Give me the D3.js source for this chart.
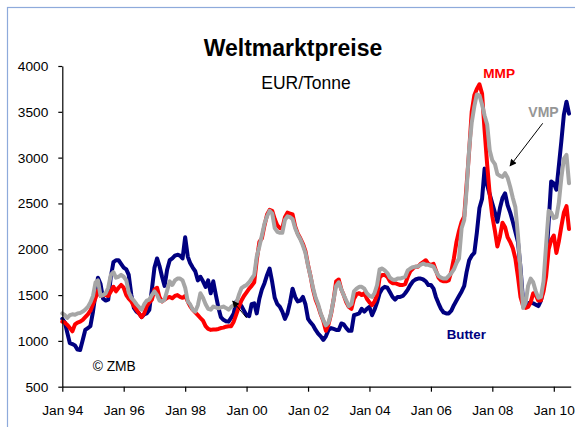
<!DOCTYPE html>
<html><head><meta charset="utf-8">
<script src="https://cdn.jsdelivr.net/npm/d3@7"></script>
<style>
html,body{margin:0;padding:0;background:#fff;}
svg{display:block;font-family:"Liberation Sans",Arial,sans-serif;}
</style></head>
<body>
<script>
// Monthly data Jan 1994 .. Jul 2010 (EUR/Tonne)
const startYear = 1994, startMonth = 0;
const butter = [
1240,1200,1090,975,965,950,905,900,1010,1120,
1140,1160,1320,1520,1690,1620,1460,1440,1450,1700,
1860,1880,1880,1840,1800,1780,1720,1500,1360,1320,
1300,1260,1290,1300,1340,1560,1800,1900,1820,1700,
1600,1780,1880,1900,1930,1940,1930,1900,2130,1920,
1850,1800,1760,1660,1700,1650,1590,1660,1520,1650,
1500,1360,1260,1230,1215,1210,1250,1300,1430,1420,
1380,1330,1280,1270,1400,1410,1300,1460,1560,1630,
1720,1790,1640,1470,1400,1370,1320,1240,1300,1420,
1570,1480,1430,1440,1480,1400,1240,1200,1170,1120,
1080,1050,1010,1050,1120,1140,1130,1120,1120,1190,
1180,1140,1110,1110,1280,1290,1300,1350,1320,1350,
1370,1280,1340,1420,1520,1570,1590,1580,1530,1480,
1450,1480,1480,1490,1520,1560,1610,1650,1670,1680,
1680,1670,1650,1610,1610,1570,1480,1410,1350,1310,
1300,1300,1330,1390,1440,1490,1540,1600,1750,1880,
1930,1960,2180,2450,2550,2880,2700,2600,2500,2400,
2300,2450,2560,2610,2480,2400,2300,2190,2080,1800,
1430,1400,1410,1420,1410,1395,1380,1440,1580,1850,
2300,2740,2720,2650,2900,3180,3470,3610,3480];
const mmp = [
1210,1200,1175,1140,1105,1180,1200,1210,1230,1260,
1290,1330,1400,1470,1550,1490,1500,1500,1490,1540,
1590,1540,1580,1610,1580,1500,1460,1430,1380,1340,
1300,1260,1300,1380,1420,1450,1560,1580,1480,1430,
1450,1470,1480,1465,1490,1500,1480,1470,1490,1430,
1380,1340,1310,1280,1250,1220,1160,1130,1120,1125,
1125,1130,1140,1145,1155,1160,1160,1210,1290,1370,
1440,1490,1530,1570,1600,1640,1880,2080,2120,2260,
2380,2430,2420,2330,2260,2230,2230,2350,2400,2390,
2380,2250,2170,2120,2060,1980,1830,1700,1560,1450,
1380,1290,1220,1110,1180,1290,1450,1650,1670,1560,
1500,1420,1370,1350,1460,1510,1520,1500,1520,1460,
1420,1390,1430,1500,1690,1720,1720,1700,1650,1630,
1630,1620,1610,1610,1620,1700,1760,1790,1810,1810,
1840,1860,1880,1840,1830,1840,1770,1690,1660,1650,
1650,1660,1760,1900,2080,2200,2300,2360,2700,3080,
3500,3680,3750,3800,3700,3300,2920,2600,2360,2200,
2030,2140,2290,2240,2130,2080,2010,1900,1700,1480,
1380,1360,1370,1420,1520,1500,1440,1440,1540,1700,
2000,2100,2150,1960,2080,2250,2400,2470,2220];
const vmp = [
1300,1280,1250,1280,1290,1285,1300,1305,1320,1340,
1370,1420,1490,1640,1660,1490,1500,1520,1580,1720,
1750,1690,1700,1720,1700,1660,1530,1470,1440,1400,
1370,1340,1400,1440,1450,1500,1540,1500,1440,1430,
1450,1550,1650,1610,1660,1680,1680,1660,1580,1430,
1400,1340,1320,1390,1520,1470,1400,1350,1340,1375,
1365,1355,1365,1375,1360,1340,1370,1390,1410,1500,
1575,1595,1610,1640,1680,1720,1920,2030,2150,2280,
2360,2420,2390,2230,2190,2180,2180,2320,2360,2350,
2330,2230,2160,2110,2040,1960,1820,1700,1580,1470,
1400,1300,1230,1170,1200,1300,1450,1600,1640,1560,
1500,1440,1380,1400,1540,1570,1590,1590,1570,1520,
1490,1480,1520,1610,1780,1790,1770,1740,1690,1670,
1665,1680,1680,1690,1700,1770,1790,1805,1810,1815,
1830,1845,1830,1830,1820,1810,1760,1710,1690,1680,
1680,1710,1740,1780,1850,1900,2230,2320,2650,3100,
3380,3560,3690,3680,3580,3460,3360,3080,2970,2930,
2820,2800,2790,2830,2780,2680,2560,2460,2150,1780,
1360,1420,1600,1680,1640,1540,1470,1480,1650,2040,
2420,2400,2340,2350,2500,2780,2990,3030,2720];
const yTicks = [500,1000,1500,2000,2500,3000,3500,4000];
const xTickYears = [1994,1996,1998,2000,2002,2004,2006,2008,2010];
const seriesNames = ["Butter","MMP","VMP"];
const seriesColors = ["#000080","#ff0000","#a6a6a6"];

const months = butter.map((_, i) => new Date(startYear, startMonth + i, 1));
const series = [butter, mmp, vmp];

const W = 575, H = 427;
const svg = d3.select("body").append("svg").attr("width", W).attr("height", H);
svg.append("rect").attr("width", W).attr("height", H).attr("fill", "#fff");
svg.append("rect").attr("x", 7.5).attr("y", 7.5).attr("width", 700).attr("height", 600)
  .attr("fill", "none").attr("stroke", "#8eaadb").attr("stroke-width", 1.2);

const x = d3.scaleTime().domain([new Date(1994,0,1), new Date(2010,6,21)]).range([62.3, 570.7]);
const y = d3.scaleLinear().domain([500, 4000]).range([386.7, 66]);

// lines
const line = d3.line().x((d, i) => x(months[i])).y(d => y(d)).curve(d3.curveLinear);
series.forEach((s, k) => {
  svg.append("path").datum(s).attr("d", line).attr("fill", "none")
    .attr("stroke", seriesColors[k]).attr("stroke-width", 4)
    .attr("stroke-linejoin", "round").attr("stroke-linecap", "round");
});

// axes
const yAxis = svg.append("g").attr("transform", "translate(62.3,0)")
  .call(d3.axisLeft(y).tickValues(yTicks).tickSize(4).tickSizeOuter(0).tickPadding(10).tickFormat(d3.format("d")));
const xAxis = svg.append("g").attr("transform", "translate(0,386.7)")
  .call(d3.axisBottom(x).tickValues(xTickYears.map(yv => new Date(yv,0,1)))
    .tickSize(5).tickSizeOuter(0).tickPadding(14).tickFormat(d3.timeFormat("Jan %y")));
[yAxis, xAxis].forEach(a => {
  a.selectAll("path,line").attr("stroke", "#000").attr("stroke-width", 1.2);
  a.selectAll("text").attr("fill", "#000").style("font-size", "13.7px")
    .style("font-family", "\"Liberation Sans\",Arial,sans-serif");
});

// texts
svg.append("text").attr("x", 293).attr("y", 56).attr("text-anchor", "middle")
  .style("font-size", "23px").style("font-weight", "bold").text("Weltmarktpreise");
svg.append("text").attr("x", 306).attr("y", 89).attr("text-anchor", "middle")
  .style("font-size", "17.5px").text("EUR/Tonne");
svg.append("text").attr("x", 483.3).attr("y", 78.3).attr("fill", seriesColors[1])
  .style("font-size", "13.6px").style("font-weight", "bold").text(seriesNames[1]);
svg.append("text").attr("x", 528.3).attr("y", 116.7).attr("fill", "#969696")
  .style("font-size", "14px").style("font-weight", "bold").text(seriesNames[2]);
svg.append("text").attr("x", 446.7).attr("y", 339).attr("fill", seriesColors[0])
  .style("font-size", "13.3px").style("font-weight", "bold").text(seriesNames[0]);
svg.append("text").attr("x", 92.7).attr("y", 371)
  .style("font-size", "13.8px").text("\u00A9 ZMB");

// arrows
svg.append("defs").append("marker").attr("id", "ah").attr("viewBox", "0 0 10 10")
  .attr("refX", 9).attr("refY", 5).attr("markerWidth", 9).attr("markerHeight", 7)
  .attr("markerUnits", "userSpaceOnUse").attr("orient", "auto")
  .append("path").attr("d", "M0,0 L10,5 L0,10 z").attr("fill", "#000");
svg.append("line").attr("x1", 542.7).attr("y1", 123.3).attr("x2", 510).attr("y2", 166)
  .attr("stroke", "#000").attr("stroke-width", 1).attr("marker-end", "url(#ah)");
svg.append("line").attr("x1", 246.7).attr("y1", 318).attr("x2", 232.7).attr("y2", 301)
  .attr("stroke", "#000").attr("stroke-width", 1).attr("marker-end", "url(#ah)");
</script>
</body></html>
